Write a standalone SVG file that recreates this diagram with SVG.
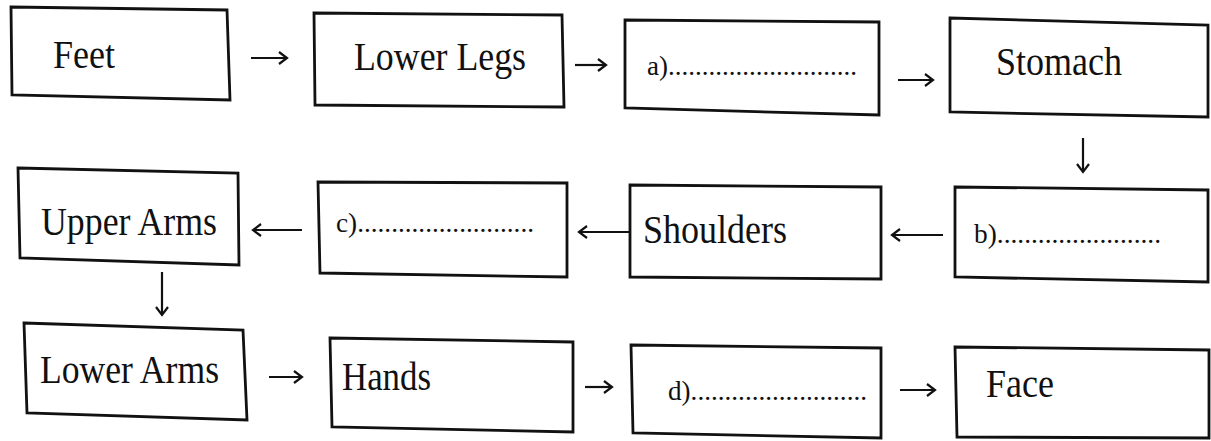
<svg xmlns="http://www.w3.org/2000/svg" width="1211" height="441" viewBox="0 0 1211 441">
<defs>
<style>
.box{fill:#fff;stroke:#111;stroke-width:2.8;stroke-linejoin:miter}
text{font-family:'Liberation Serif','DejaVu Serif',serif;fill:#111}
.lbl{font-size:40px}
.ans{font-size:28px}
.conn line{stroke:#111;stroke-width:2.2;marker-end:url(#ah)}
</style>
<marker id="ah" markerUnits="userSpaceOnUse" viewBox="-12 -8 14 16" markerWidth="14" markerHeight="16" refX="0" refY="0" orient="auto">
<path d="M-8,-6 L0,0 L-8,6" fill="none" stroke="#111" stroke-width="2.2"/>
</marker>
</defs>
<rect width="1211" height="441" fill="#fff"/>
<g id="feet"><polygon class="box" points="11,7 227,10 230,100 12,95"/><text class="lbl" x="53" y="68" textLength="62" lengthAdjust="spacingAndGlyphs">Feet</text></g>
<g id="lower-legs"><polygon class="box" points="314,13 562,15 564,107 315,105"/><text class="lbl" x="354" y="70" textLength="172" lengthAdjust="spacingAndGlyphs">Lower Legs</text></g>
<g id="a"><polygon class="box" points="625,20 879,22 879,115 625,108"/><text class="ans" x="647" y="75" textLength="210" lengthAdjust="spacingAndGlyphs">a)............................</text></g>
<g id="stomach"><polygon class="box" points="950,18 1208,25 1208,117 950,112"/><text class="lbl" x="996" y="75" textLength="126" lengthAdjust="spacingAndGlyphs">Stomach</text></g>
<g id="upper-arms"><polygon class="box" points="18,168 238,173 239,265 20,258"/><text class="lbl" x="41" y="235" textLength="176" lengthAdjust="spacingAndGlyphs">Upper Arms</text></g>
<g id="c"><polygon class="box" points="318,182 567,183 567,277 320,273"/><text class="ans" x="336" y="232" textLength="198" lengthAdjust="spacingAndGlyphs">c)..........................</text></g>
<g id="shoulders"><polygon class="box" points="630,185 881,187 881,279 630,277"/><text class="lbl" x="643" y="243" textLength="144" lengthAdjust="spacingAndGlyphs">Shoulders</text></g>
<g id="b"><polygon class="box" points="955,187 1208,190 1208,282 955,277"/><text class="ans" x="974" y="243" textLength="187" lengthAdjust="spacingAndGlyphs">b)........................</text></g>
<g id="lower-arms"><polygon class="box" points="24,323 243,330 247,420 27,413"/><text class="lbl" x="40" y="383" textLength="179" lengthAdjust="spacingAndGlyphs">Lower Arms</text></g>
<g id="hands"><polygon class="box" points="330,338 573,342 573,432 332,427"/><text class="lbl" x="342" y="390" textLength="89" lengthAdjust="spacingAndGlyphs">Hands</text></g>
<g id="d"><polygon class="box" points="631,345 881,348 881,438 633,433"/><text class="ans" x="668" y="400" textLength="199" lengthAdjust="spacingAndGlyphs">d)..........................</text></g>
<g id="face"><polygon class="box" points="955,347 1209,350 1209,438 957,437"/><text class="lbl" x="986" y="397" textLength="68" lengthAdjust="spacingAndGlyphs">Face</text></g>
<g id="connectors" class="conn">
<line x1="251" y1="58" x2="287" y2="58"/>
<line x1="575" y1="65" x2="606" y2="65"/>
<line x1="898" y1="80" x2="933" y2="80"/>
<line x1="1083" y1="138" x2="1083" y2="172"/>
<line x1="943" y1="235" x2="892" y2="235"/>
<line x1="629" y1="232" x2="579" y2="232"/>
<line x1="302" y1="230" x2="253" y2="230"/>
<line x1="162" y1="272" x2="162" y2="315"/>
<line x1="269" y1="377" x2="302" y2="377"/>
<line x1="585" y1="387" x2="612" y2="387"/>
<line x1="900" y1="390" x2="935" y2="390"/>
</g>
</svg>
